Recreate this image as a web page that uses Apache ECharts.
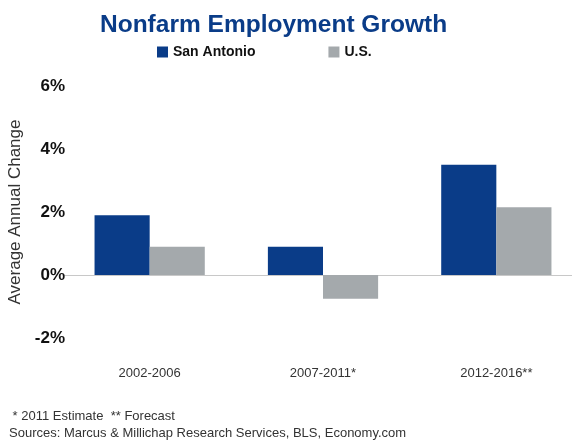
<!DOCTYPE html>
<html>
<head>
<meta charset="utf-8">
<script src="https://cdn.jsdelivr.net/npm/echarts@6/dist/echarts.min.js"></script>
<style>
  html, body { margin: 0; padding: 0; background: #fff; }
  #chart { width: 572px; height: 440px; }
</style>
</head>
<body>
<div id="chart"></div>
<script>
// Average annual nonfarm employment change, % per period
const periods = ['2002-2006', '2007-2011*', '2012-2016**'];
const sanAntonio = [1.9, 0.9, 3.5];
const unitedStates = [0.9, -0.75, 2.15];
const yTicks = { min: -2, max: 6, step: 2 };
const footnotes = [' * 2011 Estimate  ** Forecast', 'Sources: Marcus & Millichap Research Services, BLS, Economy.com'];

const FONT = '"Liberation Sans", Arial, Helvetica, sans-serif';
const NAVY = '#0a3c88';
const GRAY = '#a4a9ac';

const chart = echarts.init(document.getElementById('chart'));
chart.setOption({
  backgroundColor: '#ffffff',
  textStyle: { fontFamily: FONT },
  title: [
    {
      text: 'Nonfarm Employment Growth',
      left: 95,
      top: 8,
      textStyle: { fontFamily: FONT, fontSize: 24.5, fontWeight: 'bold', color: NAVY }
    },
    {
      text: footnotes.join('\n'),
      left: 4,
      top: 403,
      textStyle: { fontFamily: FONT, fontSize: 13, fontWeight: 'normal', color: '#333', lineHeight: 17 }
    }
  ],
  legend: {
    left: 152,
    top: 40,
    itemWidth: 11,
    itemHeight: 11,
    itemGap: 73,
    icon: 'rect',
    textStyle: { fontFamily: FONT, fontSize: 14, fontWeight: 'bold', color: '#111' },
    data: ['San Antonio', 'U.S.']
  },
  grid: {
    left: 63,
    width: 520,
    top: 86,
    bottom: 102,
    containLabel: false,
    outerBoundsMode: 'none'
  },
  xAxis: {
    type: 'category',
    data: periods,
    axisLine: { show: true, onZero: true, lineStyle: { color: '#c8c8c8', width: 1 } },
    axisTick: { show: false },
    axisLabel: {
      fontFamily: FONT,
      fontSize: 13,
      color: '#333',
      margin: 29
    }
  },
  yAxis: {
    type: 'value',
    min: yTicks.min,
    max: yTicks.max,
    interval: yTicks.step,
    name: 'Average Annual Change',
    nameLocation: 'middle',
    nameGap: 38,
    nameTextStyle: { fontFamily: FONT, fontSize: 17, color: '#333' },
    axisLine: { show: false },
    axisTick: { show: false },
    splitLine: { show: false },
    axisLabel: {
      fontFamily: FONT,
      fontSize: 17,
      fontWeight: 'bold',
      color: '#111',
      margin: -2,
      formatter: v => v + '%'
    }
  },
  series: [
    {
      name: 'San Antonio',
      type: 'bar',
      data: sanAntonio,
      itemStyle: { color: NAVY },
      barGap: '0%',
      barCategoryGap: '36.4%'
    },
    {
      name: 'U.S.',
      type: 'bar',
      data: unitedStates,
      itemStyle: { color: GRAY },
      barGap: '0%',
      barCategoryGap: '36.4%'
    }
  ]
});
</script>
</body>
</html>
